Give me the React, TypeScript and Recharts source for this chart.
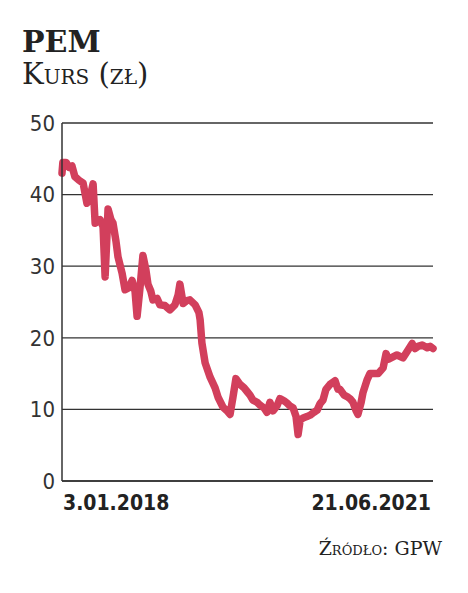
import React from "react";
import {
  LineChart,
  Line,
  XAxis,
  YAxis,
  CartesianGrid,
} from "recharts";

// days since 3.01.2018, closing price (zł)
const days = [
  0, 3, 14, 24, 34, 44, 58, 72, 85, 95, 106, 113, 130, 140, 147, 153, 157, 167,
  174, 184, 191, 205, 215, 228, 239, 249, 256, 266, 276, 286, 293, 303, 310,
  324, 334, 351, 368, 385, 396, 402, 413, 426, 436, 454, 467, 471, 477, 488,
  505, 522, 532, 549, 563, 573, 583, 593, 607, 621, 631, 641, 651, 665, 675,
  689, 699, 709, 720, 733, 743, 757, 767, 777, 788, 798, 805, 812, 822, 835,
  846, 859, 870, 880, 890, 900, 914, 931, 941, 948, 962, 972, 982, 992, 1003,
  1009, 1020, 1026, 1040, 1050, 1064, 1078, 1095, 1105, 1112, 1122, 1142,
  1163, 1180, 1194, 1204, 1214, 1228, 1245, 1255, 1265,
];
const prices = [
  43.0, 44.5, 44.5, 43.8, 44.0, 42.5, 42.0, 41.6, 38.8, 39.5, 41.5, 36.0, 36.5,
  35.5, 28.5, 34.0, 38.0, 36.5, 36.0, 33.5, 31.3, 29.0, 26.7, 27.0, 28.0, 26.5,
  23.0, 27.0, 31.5, 29.5, 27.5, 26.5, 25.3, 25.5, 24.6, 24.5, 23.9, 24.6, 26.0,
  27.5, 24.8, 25.2, 25.3, 24.6, 23.5, 22.5, 19.3, 16.5, 14.5, 13.0, 11.7, 10.3,
  9.8, 9.3, 11.7, 14.3, 13.5, 13.0, 12.5, 12.0, 11.3, 11.0, 10.6, 10.2, 9.6,
  11.0, 9.8, 10.5, 11.5, 11.2, 10.9, 10.5, 10.2, 9.0, 6.5, 8.5, 8.8, 9.0, 9.2,
  9.6, 9.9, 10.8, 11.3, 12.8, 13.5, 14.0, 12.8, 12.8, 12.0, 11.8, 11.5, 11.0,
  9.8, 9.3, 11.0, 12.3, 14.1, 15.0, 15.0, 15.0, 15.8, 17.8, 17.0, 17.2, 17.6,
  17.2, 18.3, 19.2, 18.5, 18.8, 19.0, 18.6, 18.8, 18.5,
];
const yTicks = [0, 10, 20, 30, 40, 50];
const xTicks = [0, 1265];
const xLabels = ["3.01.2018", "21.06.2021"];

const data = days.map((d, i) => ({ day: d, price: prices[i] }));

const sansCond = "'DejaVu Sans Condensed', 'Liberation Sans Narrow', sans-serif";
const slab = "'DejaVu Serif', serif";

const XTick = (props: any) => {
  const { x, y, payload, index } = props;
  const first = index === 0;
  return (
    <text
      x={first ? x + 1 : x - 2}
      y={y + 29}
      textAnchor={first ? "start" : "end"}
      fill="#222"
      fontFamily={sansCond}
      fontWeight={700}
      fontSize={21}
    >
      {xLabels[xTicks.indexOf(payload.value)]}
    </text>
  );
};

export default function App() {
  return (
    <div style={{ position: "absolute", left: 0, top: 0, width: 468, height: 593, background: "#fff" }}>
      <svg width={468} height={593} style={{ position: "absolute", left: 0, top: 0 }}>
        <text x={22} y={52} fontFamily={slab} fontWeight={700} fontSize={30} fill="#222">
          PEM
        </text>
        <text x={22} y={84} fontFamily={slab} fontSize={29} fill="#222" style={{ fontVariant: "small-caps" }}>
          Kurs (zł)
        </text>
        <text
          x={442}
          y={555}
          textAnchor="end"
          fontFamily={slab}
          fontSize={19}
          fill="#222"
          style={{ fontVariant: "small-caps" }}
        >
          Źródło: GPW
        </text>
      </svg>
      <div style={{ position: "absolute", left: 0, top: 0 }}>
        <LineChart
          width={468}
          height={593}
          data={data}
          margin={{ top: 123, right: 35, left: 22, bottom: 82 }}
        >
          <CartesianGrid vertical={false} stroke="#333" strokeWidth={1.3} />
          <XAxis
            dataKey="day"
            type="number"
            domain={[0, 1265]}
            ticks={xTicks}
            tickLine={false}
            tickSize={0}
            tickMargin={0}
            height={30}
            stroke="#333"
            strokeWidth={1.5}
            tick={<XTick />}
            interval={0}
          />
          <YAxis
            domain={[0, 50]}
            ticks={yTicks}
            width={40}
            tickLine={false}
            tickSize={0}
            tickMargin={7}
            stroke="#333"
            strokeWidth={1.5}
            tick={{ fill: "#333", fontSize: 22, fontFamily: sansCond, fontWeight: 300 }}
            interval={0}
          />
          <Line
            dataKey="price"
            type="linear"
            stroke="#d23f5c"
            strokeWidth={7.5}
            strokeLinejoin="round"
            strokeLinecap="round"
            dot={false}
            isAnimationActive={false}
          />
        </LineChart>
      </div>
    </div>
  );
}
